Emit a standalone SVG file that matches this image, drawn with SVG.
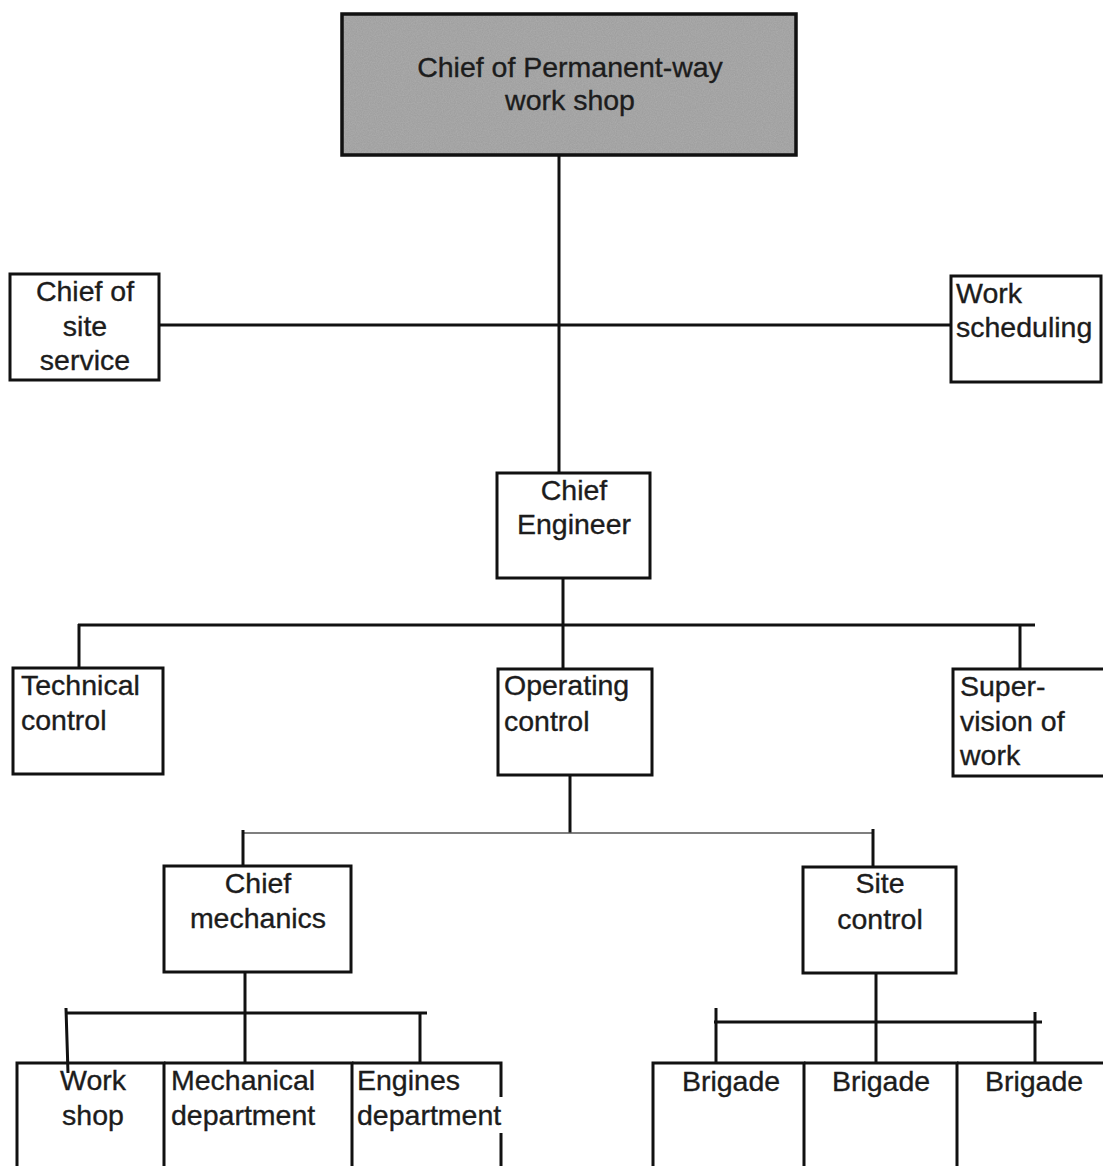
<svg xmlns="http://www.w3.org/2000/svg" width="1103" height="1166" viewBox="0 0 1103 1166">
  <style>
    .box { fill: #ffffff; stroke: #111111; stroke-width: 3; }
    .head { fill: #a0a0a0; stroke: #111111; stroke-width: 3.5; }
    .wire { stroke: #111111; stroke-width: 3; fill: none; stroke-linecap: butt; }
    .thin { stroke: #555555; stroke-width: 1.6; fill: none; }
    text { font-family: "Liberation Sans", Arial, sans-serif; font-size: 28.5px; fill: #1c1c1c; stroke: #1c1c1c; stroke-width: 0.35; }
    .c { text-anchor: middle; }
  </style>
  <defs>
    <filter id="grain" x="0" y="0" width="100%" height="100%">
      <feTurbulence type="fractalNoise" baseFrequency="0.85" numOctaves="2" seed="3" result="noise"/>
      <feColorMatrix type="matrix" in="noise" values="0 0 0 0 0.5  0 0 0 0 0.5  0 0 0 0 0.5  0 0 0 1.2 -0.3" result="spots"/>
      <feComposite in="spots" in2="SourceGraphic" operator="in"/>
    </filter>
  </defs>

  <!-- connectors -->
  <g id="connectors">
    <line class="wire" x1="559" y1="155" x2="559" y2="473"/>
    <line class="wire" x1="158" y1="325" x2="957" y2="325"/>
    <line class="wire" x1="563" y1="578" x2="563" y2="669"/>
    <line class="wire" x1="78" y1="625" x2="1035" y2="625"/>
    <line class="wire" x1="79" y1="624" x2="79" y2="668"/>
    <line class="wire" x1="1020" y1="624" x2="1020" y2="669"/>
    <line class="wire" x1="570" y1="775" x2="570" y2="833"/>
    <line class="thin" x1="242" y1="833" x2="873" y2="833"/>
    <line class="wire" x1="243" y1="830" x2="243" y2="866"/>
    <line class="wire" x1="873" y1="829" x2="873" y2="867"/>
    <line class="wire" x1="245" y1="972" x2="245" y2="1063"/>
    <line class="wire" x1="65" y1="1013" x2="427" y2="1013"/>
    <line class="wire" x1="66" y1="1008" x2="68" y2="1073"/>
    <line class="wire" x1="420" y1="1012" x2="420" y2="1063"/>
    <line class="wire" x1="876" y1="973" x2="876" y2="1063"/>
    <line class="wire" x1="714" y1="1022" x2="1042" y2="1022"/>
    <line class="wire" x1="716" y1="1008" x2="716" y2="1063"/>
    <line class="wire" x1="1035" y1="1012" x2="1035" y2="1063"/>
  </g>

  <g id="chief-permanent-way">
    <rect class="head" x="342" y="14" width="454" height="141"/>
    <rect x="344" y="16" width="450" height="137" fill="#000" filter="url(#grain)" opacity="0.55"/>
    <text class="c" x="570" y="77">Chief of Permanent-way</text>
    <text class="c" x="570" y="110">work shop</text>
  </g>

  <g id="chief-site-service">
    <rect class="box" x="10" y="274" width="149" height="106"/>
    <text class="c" x="85" y="301">Chief of</text>
    <text class="c" x="85" y="336">site</text>
    <text class="c" x="85" y="370">service</text>
  </g>

  <g id="work-scheduling">
    <rect class="box" x="951" y="276" width="150" height="106"/>
    <text x="956" y="303">Work</text>
    <text x="956" y="337">scheduling</text>
  </g>

  <g id="chief-engineer">
    <rect class="box" x="497" y="473" width="153" height="105"/>
    <text class="c" x="574" y="500">Chief</text>
    <text class="c" x="574" y="534">Engineer</text>
  </g>

  <g id="technical-control">
    <rect class="box" x="13" y="668" width="150" height="106"/>
    <text x="21" y="695">Technical</text>
    <text x="21" y="730">control</text>
  </g>

  <g id="operating-control">
    <rect class="box" x="498" y="669" width="154" height="106"/>
    <text x="504" y="695">Operating</text>
    <text x="504" y="731">control</text>
  </g>

  <g id="supervision-of-work">
    <rect class="box" x="953" y="669" width="152" height="107"/>
    <text x="960" y="696">Super-</text>
    <text x="960" y="731">vision of</text>
    <text x="960" y="765">work</text>
  </g>

  <g id="chief-mechanics">
    <rect class="box" x="164" y="866" width="187" height="106"/>
    <text class="c" x="258" y="893">Chief</text>
    <text class="c" x="258" y="928">mechanics</text>
  </g>

  <g id="site-control">
    <rect class="box" x="803" y="867" width="153" height="106"/>
    <text class="c" x="880" y="893">Site</text>
    <text class="c" x="880" y="929">control</text>
  </g>

  <g id="work-shop">
    <path class="wire" d="M17,1168 V1063 H164 V1168"/>
    <text class="c" x="93" y="1090">Work</text>
    <text class="c" x="93" y="1125">shop</text>
  </g>

  <g id="mechanical-department">
    <path class="wire" d="M164,1063 H352 V1168"/>
    <text x="171" y="1090">Mechanical</text>
    <text x="171" y="1125">department</text>
  </g>

  <g id="engines-department">
    <path class="wire" d="M352,1063 H501 V1097 M501,1133 V1168"/>
    <text x="357" y="1090">Engines</text>
    <text x="357" y="1125">department</text>
  </g>

  <g id="brigade-1">
    <path class="wire" d="M653,1168 V1063 H804 V1168"/>
    <text class="c" x="731" y="1091">Brigade</text>
  </g>

  <g id="brigade-2">
    <path class="wire" d="M804,1063 H957 V1168"/>
    <text class="c" x="881" y="1091">Brigade</text>
  </g>

  <g id="brigade-3">
    <path class="wire" d="M957,1063 H1105"/>
    <text class="c" x="1034" y="1091">Brigade</text>
  </g>
</svg>
